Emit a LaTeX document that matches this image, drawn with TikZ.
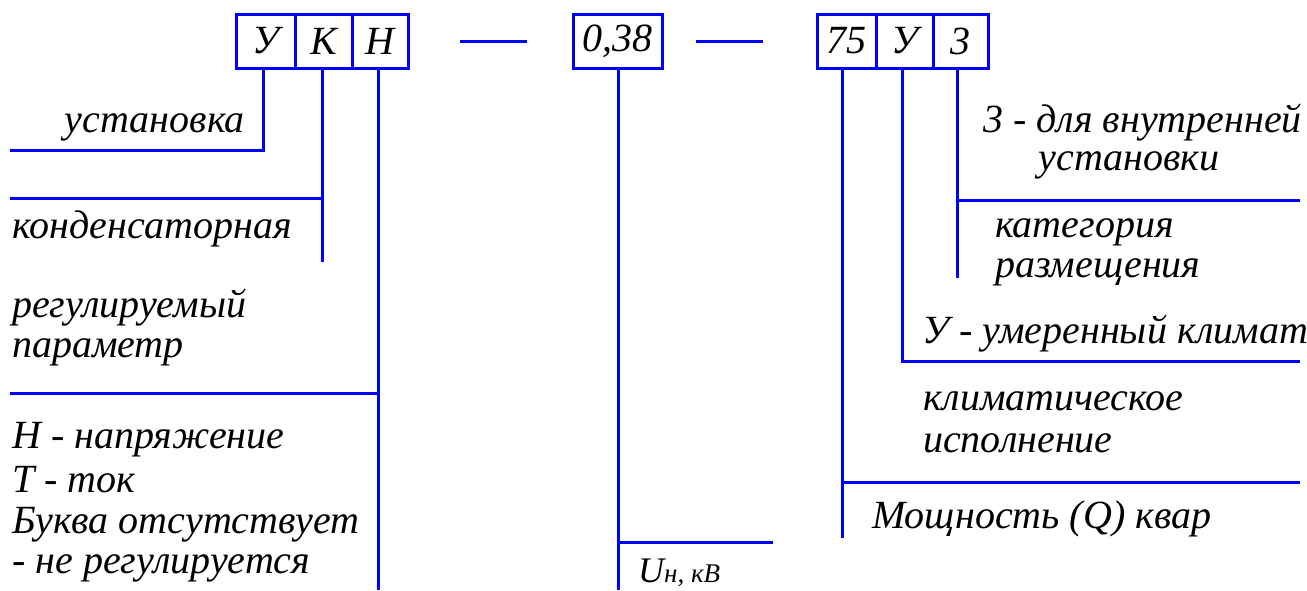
\documentclass[tikz,border=0pt]{standalone}
\usepackage{fontspec}
\setmainfont{Liberation Serif}
\begin{document}
\begin{tikzpicture}[x=1pt,y=-1pt,
  ln/.style={draw=blue, line width=3pt},
  cell/.style={draw=blue, line width=3pt, minimum height=54pt, inner sep=0pt,
    font=\fontsize{40}{40}\selectfont\itshape},
  lbl/.style={inner sep=0pt, anchor=base west, font=\fontsize{40}{40}\selectfont\itshape}]
\useasboundingbox (0,0) rectangle (1307,590);

% code cells
\node[cell, minimum width=59pt] (cU) at (265.5,41) {У};
\node[cell, minimum width=57pt] (cK) at (323.5,41) {К};
\node[cell, minimum width=56pt] (cH) at (380,41) {Н};
\node[cell, minimum width=89pt] (cV) at (617.5,41) {0,38};
\node[cell, minimum width=59pt] (cQ) at (846.5,41) {75};
\node[cell, minimum width=57pt] (cC) at (904.5,41) {У};
\node[cell, minimum width=55pt] (cP) at (960.5,41) {3};

% dashes between groups
\draw[ln] (460,41) -- (527,41);
\draw[ln] (696,41) -- (763,41);

% leader coordinates
\coordinate (kU) at (263,150);  \coordinate (eU) at (10,150);
\coordinate (kK) at (322,262);  \coordinate (jK) at (322,198); \coordinate (eK) at (10,198);
\coordinate (kH) at (378,590);  \coordinate (jH) at (378,393); \coordinate (eH) at (10,393);
\coordinate (kV) at (618,590);  \coordinate (jV) at (618,542); \coordinate (eV) at (773,542);
\coordinate (kQ) at (842,538);  \coordinate (jQ) at (842,482); \coordinate (eQ) at (1300,482);
\coordinate (kC) at (902,361);  \coordinate (eC) at (1300,361);
\coordinate (kP) at (957,278);  \coordinate (jP) at (957,200); \coordinate (eP) at (1300,200);

% leaders
\draw[ln] (cU.south -| kU) -- (kU) -- (eU);
\draw[ln] (cK.south -| kK) -- (kK);  \draw[ln] (jK) -- (eK);
\draw[ln] (cH.south -| kH) -- (kH);  \draw[ln] (jH) -- (eH);
\draw[ln] (cV.south -| kV) -- (kV);  \draw[ln] (jV) -- (eV);
\draw[ln] (cQ.south -| kQ) -- (kQ);  \draw[ln] (jQ) -- (eQ);
\draw[ln] (cC.south -| kC) -- (kC) -- (eC);
\draw[ln] (cP.south -| kP) -- (kP);  \draw[ln] (jP) -- (eP);

% left labels
\node[lbl, anchor=base east] (tU) at (245,132) {установка};
\node[lbl] (tK) at (12,238) {конденсаторная};
\node[lbl] (tH1) at (12,317) {регулируемый};
\node[lbl] (tH2) at (12,357) {параметр};
\node[lbl] (tH3) at (12,448) {Н - напряжение};
\node[lbl] (tH4) at (12,492) {Т - ток};
\node[lbl] (tH5) at (12,533) {Буква отсутствует};
\node[lbl] (tH6) at (12,573) {- не регулируется};

% voltage label
\node[lbl, font=\fontsize{36}{36}\selectfont\itshape] (tV) at (638,582) {U\fontsize{27}{27}\selectfont н, кВ};

% right labels
\node[lbl] (tP1) at (983,132) {3 - для внутренней};
\node[lbl, anchor=base] (tP2) at (1129,170) {установки};
\node[lbl] (tP3) at (995,237) {категория};
\node[lbl] (tP4) at (995,277) {размещения};
\node[lbl] (tC1) at (922,343) {У - умеренный климат};
\node[lbl] (tC2) at (923,410) {климатическое};
\node[lbl] (tC3) at (923,452) {исполнение};
\node[lbl] (tQ) at (872,528) {Мощность (Q) квар};
\end{tikzpicture}
\end{document}
